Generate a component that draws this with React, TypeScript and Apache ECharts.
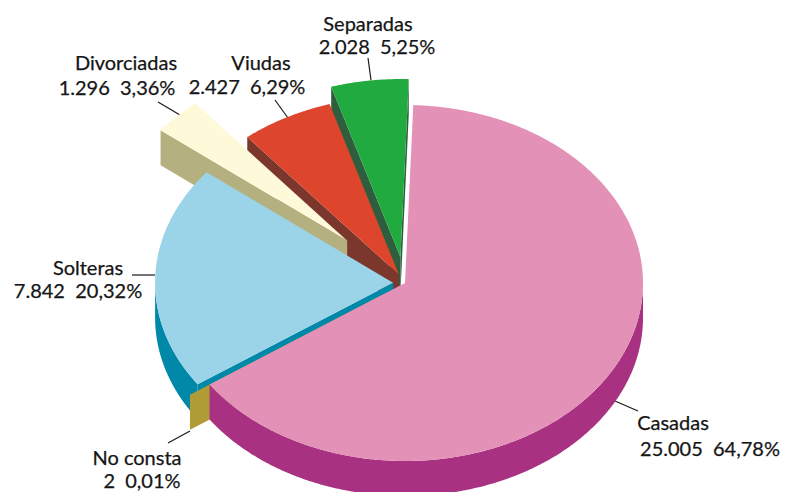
import React, { useEffect, useRef } from 'react';
import * as echarts from 'echarts';

// ---- data ----
const categories = ['Casadas', 'No consta', 'Solteras', 'Divorciadas', 'Viudas', 'Separadas'];
const values = [25005, 2, 7842, 1296, 2427, 2028];

// ---- styles ----
const topColors = ['#e391b6', '#b09c37', '#9bd3e8', '#fefad9', '#de452d', '#21aa40'];
const sideColors = ['#a93181', '#b09c37', '#0088a8', '#b5b07f', '#7c372c', '#2f5e3f'];
const explode = [0, 0.1, 0.05, 0.34, 0.055, 0.147];
// painter order for side walls (back to front)
const sideOrder = [5, 4, 3, 2, 1, 0];

// label layout: centre of line 1, centre of line 2, leader line
const labelLayout = [
  { l1: [673, 422], l2: [710, 448], line: [[615, 401], [638, 411]] },
  { l1: [137, 457], l2: [142, 480], line: [[168, 443], [190, 431]] },
  { l1: [88, 267], l2: [78, 290], line: [[132, 275], [155, 275]] },
  { l1: [126, 62], l2: [117, 87], line: [[158, 102], [180, 115]] },
  { l1: [261, 62], l2: [247, 86], line: [[275, 100], [288, 118]] },
  { l1: [368, 23], l2: [377, 46], line: [[368, 58], [371, 80]] },
];

const CX = 405;
const CY = 283;
const RX = 238;
const RY = 178;
const DEPTH = 35;
const START_ANGLE = 2;
const FONT = 'Lato, "Noto Sans", sans-serif';

const rad = (d: number) => (d * Math.PI) / 180;
const total = values.reduce((s, v) => s + v, 0);

type Slice = { a0: number; a1: number; ox: number; oy: number };
const slices: Slice[] = (() => {
  let a = START_ANGLE;
  return values.map((v, i) => {
    const a0 = a;
    const a1 = a + (v / total) * 360;
    a = a1;
    const m = (a0 + a1) / 2;
    const e = explode[i];
    return { a0, a1, ox: e * RX * Math.sin(rad(m)), oy: -e * RY * Math.cos(rad(m)) };
  });
})();

function pt(s: Slice, a: number, dy = 0): number[] {
  return [CX + s.ox + RX * Math.sin(rad(a)), CY + s.oy - RY * Math.cos(rad(a)) + dy];
}
function ctr(s: Slice, dy = 0): number[] {
  return [CX + s.ox, CY + s.oy + dy];
}
function arc(s: Slice, a0: number, a1: number, dy = 0): number[][] {
  const n = Math.max(1, Math.ceil(Math.abs(a1 - a0) / 0.5));
  const pts: number[][] = [];
  for (let k = 0; k <= n; k++) pts.push(pt(s, a0 + ((a1 - a0) * k) / n, dy));
  return pts;
}
function radialFace(s: Slice, a: number) {
  return [ctr(s), pt(s, a), pt(s, a, DEPTH), ctr(s, DEPTH)];
}

function fmtNum(v: number) {
  return String(v).replace(/\B(?=(\d{3})+(?!\d))/g, '.');
}
function fmtPct(v: number) {
  return ((v / total) * 100).toFixed(2).replace('.', ',') + '%';
}

function renderSide(params: any) {
  const i = sideOrder[params.dataIndex];
  const s = slices[i];
  const fill = sideColors[i];
  const children: any[] = [];
  if (Math.sin(rad(s.a0)) < -1e-6) {
    children.push({ type: 'polygon', shape: { points: radialFace(s, s.a0) }, style: { fill } });
  }
  if (Math.sin(rad(s.a1)) > 1e-6) {
    children.push({ type: 'polygon', shape: { points: radialFace(s, s.a1) }, style: { fill } });
  }
  const b0 = Math.max(s.a0, 90);
  const b1 = Math.min(s.a1, 270);
  if (b1 > b0) {
    const topArc = arc(s, b0, b1);
    const botArc = arc(s, b1, b0, DEPTH);
    children.push({ type: 'polygon', shape: { points: topArc.concat(botArc) }, style: { fill } });
  }
  return { type: 'group', children };
}

function renderTop(params: any) {
  const i = params.dataIndex;
  const s = slices[i];
  return {
    type: 'polygon',
    shape: { points: [ctr(s)].concat(arc(s, s.a0, s.a1)) },
    style: { fill: topColors[i] },
  };
}

function textEl(text: string, x: number, y: number) {
  return {
    type: 'text',
    x,
    y,
    silent: true,
    style: {
      text,
      fill: '#151515',
      fontSize: 20,
      fontFamily: FONT,
      align: 'center',
      verticalAlign: 'middle',
      textAlign: 'center',
      textVerticalAlign: 'middle',
      stroke: '#151515',
      lineWidth: 0.25,
    },
  };
}

export default function App() {
  const ref = useRef<HTMLDivElement>(null);
  useEffect(() => {
    document.body.style.margin = '0';
    if (!ref.current) return;
    const chart = echarts.init(ref.current, undefined, { renderer: 'svg' });
    const graphics: any[] = [];
    categories.forEach((name, i) => {
      const L = labelLayout[i];
      graphics.push({
        type: 'line',
        silent: true,
        shape: { x1: L.line[0][0], y1: L.line[0][1], x2: L.line[1][0], y2: L.line[1][1] },
        style: { stroke: '#1a1a1a', lineWidth: 1.2 },
      });
      graphics.push(textEl(name, L.l1[0], L.l1[1]));
      graphics.push(textEl(fmtNum(values[i]) + '  ' + fmtPct(values[i]), L.l2[0], L.l2[1]));
    });
    chart.setOption({
      animation: false,
      backgroundColor: '#ffffff',
      series: [
        {
          type: 'custom',
          coordinateSystem: 'none',
          silent: true,
          z: 1,
          renderItem: renderSide,
          data: sideOrder.map((i) => ({ name: categories[i], value: values[i] })),
        },
        {
          type: 'custom',
          coordinateSystem: 'none',
          silent: true,
          z: 2,
          renderItem: renderTop,
          data: categories.map((name, i) => ({ name, value: values[i] })),
        },
      ],
      graphic: { elements: graphics },
    });
    return () => chart.dispose();
  }, []);
  return <div ref={ref} style={{ width: 786, height: 492 }} />;
}
